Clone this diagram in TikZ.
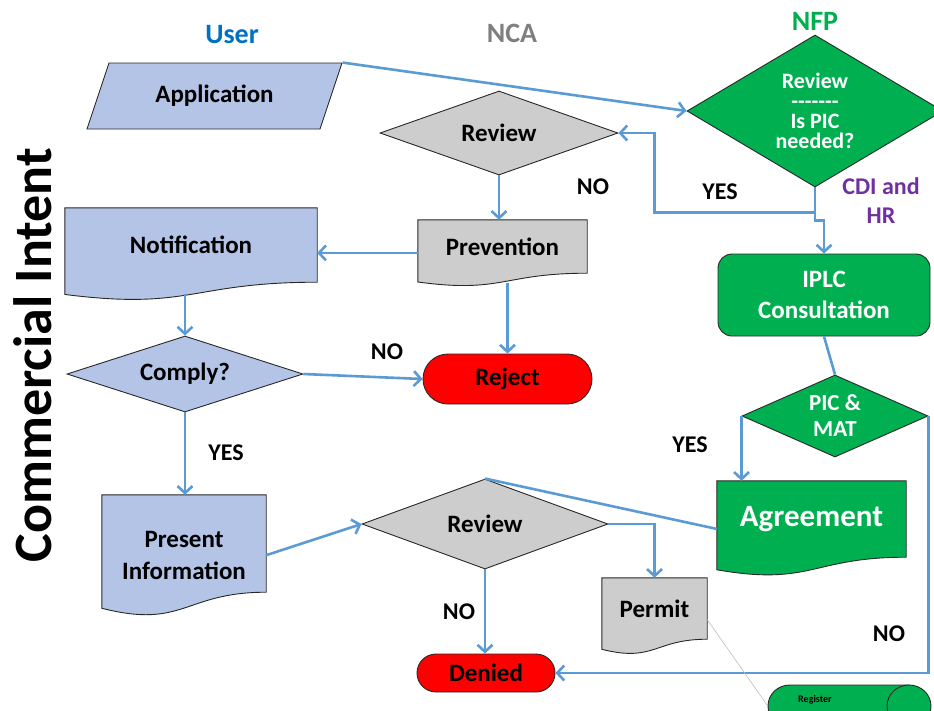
\documentclass[tikz,border=0pt]{standalone}
\usepackage{fontspec}
\setmainfont{Carlito}
\usetikzlibrary{shapes.geometric,arrows.meta,calc,backgrounds}
\definecolor{lblue}{RGB}{180,196,230}
\definecolor{gfill}{RGB}{205,205,205}
\definecolor{ablue}{RGB}{91,155,213}
\definecolor{ngreen}{RGB}{0,176,80}
\definecolor{nred}{RGB}{255,0,0}
\definecolor{npurple}{RGB}{112,48,160}
\definecolor{hblue}{RGB}{0,112,192}
\definecolor{hgray}{RGB}{127,127,127}
\definecolor{bord}{RGB}{40,40,40}
\newcommand\fsz[2]{\fontsize{#1}{#2}\selectfont\bfseries}
\newcommand\docshape[2]{%
  \filldraw[box, fill=#2] (#1.north west) -- (#1.north east) -- (#1.south east)
    .. controls (#1.south) and ($(#1.north)!1.381!(#1.south)$) ..
    ($(#1.north west)!1.1646!(#1.south west)$) -- cycle;}
\begin{document}
\begin{tikzpicture}[x=1pt,y=-1pt,
  box/.style={draw=bord, line width=0.9pt},
  fs/.style={font=\fsz{25}{30}},
  lbl/.style={font=\fsz{24}{28}},
  hdr/.style={font=\fsz{28}{32}},
  arr/.style={draw=ablue, line width=2.6pt, -{Straight Barb[length=7pt,width=15pt]}},
  conn/.style={draw=ablue, line width=2.6pt},
  thinline/.style={draw=black!25, line width=0.6pt},
  docnode/.style={rectangle, inner sep=0pt, align=center},
  dia/.style={diamond, box, inner sep=0pt, align=center}]
\useasboundingbox (0,0) rectangle (934,710);
\clip (0,0) rectangle (934,710);

% headers
\node[hdr, text=hblue] (huser) at (232,35) {User};
\node[hdr, text=hgray] (hnca) at (512,33) {NCA};
\node[hdr, text=ngreen] (hnfp) at (815,21) {NFP};
\node[font=\fsz{54}{60}, rotate=90] (ci) at (33,355) {Commercial Intent};

% user column
\node[trapezium, trapezium left angle=52, trapezium right angle=128,
      trapezium stretches body, minimum width=255pt, minimum height=66pt,
      box, fill=lblue, fs] (app) at (214.5,96) {Application};
\node[docnode, minimum width=252pt, minimum height=74pt, fs] (notif) at (191,245) {Notification};
\node[dia, fill=lblue, minimum width=236pt, minimum height=76pt, aspect=3.1, fs] (comply) at (185,374) {Comply?};
\node[docnode, minimum width=164pt, minimum height=97pt] (pres) at (184,543.5) {};
\node[font=\fsz{25}{32}, align=center] (prest) at (184,555) {Present\\Information};

% NCA column
\node[dia, fill=gfill, minimum width=238pt, minimum height=84pt, aspect=2.83, fs] (rev1) at (499,133) {Review};
\node[docnode, minimum width=169pt, minimum height=53pt, fs] (prev) at (502.5,246.5) {Prevention};
\node[rectangle, rounded corners=25pt, box, fill=nred, minimum width=169pt, minimum height=50pt, fs] (reject) at (507.5,379) {Reject};
\node[dia, fill=gfill, minimum width=246pt, minimum height=90pt, aspect=2.73, fs] (rev2) at (485,524) {Review};
\node[docnode, minimum width=105pt, minimum height=61pt, fs] (permit) at (654.5,608.5) {Permit};
\node[rectangle, rounded corners=19pt, box, fill=nred, minimum width=138pt, minimum height=38pt, fs] (denied) at (486,673) {Denied};

% NFP column
\node[dia, fill=ngreen, minimum width=256pt, minimum height=152pt, aspect=1.68,
      text=white, font=\fsz{22}{20}] (nfp) at (815,111) {Review\\{-}{-}{-}{-}{-}{-}{-}\\Is PIC\\needed?};
\node[rectangle, rounded corners=14pt, box, fill=ngreen, minimum width=212pt, minimum height=82pt,
      text=white, align=center, font=\fsz{25}{31}] (iplc) at (824,295) {IPLC\\Consultation};
\node[dia, fill=ngreen, minimum width=186pt, minimum height=82pt, aspect=2.27,
      text=white, font=\fsz{23}{26}] (pic) at (835,416) {PIC \&\\MAT};
\node[docnode, minimum width=189pt, minimum height=76pt, font=\fsz{31}{36}, text=white] (agree) at (811.5,519) {Agreement};

% register (horizontal cylinder, partly outside the frame)
\node[inner sep=0pt, minimum width=163pt, minimum height=42pt] (reg) at (849.5,706) {};
\filldraw[box, fill=ngreen] (790,685) -- (909,685) -- (909,727) -- (790,727)
  .. controls (778,727) and (768,718) .. (768,706)
  .. controls (768,694) and (778,685) .. (790,685) -- cycle;
\filldraw[box, fill=ngreen] (909,706) ellipse [x radius=22pt, y radius=21pt];
\node[font=\fsz{10}{12}] (regt) at (815,700) {Register};

% document shapes behind their texts
\begin{scope}[on background layer]
  \fill[white] (0,0) rectangle (934,710);
  \docshape{notif}{lblue}
  \docshape{pres}{lblue}
  \docshape{prev}{gfill}
  \docshape{permit}{gfill}
  \docshape{agree}{ngreen}
\end{scope}

% labels
\node[lbl] (lno1) at (593,187) {NO};
\node[lbl] (lyes1) at (720,192) {YES};
\node[font=\fsz{24}{29}, text=npurple, align=center] (lcdi) at (881,201) {CDI and\\HR};
\node[lbl] (lno2) at (387,352) {NO};
\node[lbl] (lyes2) at (226,453) {YES};
\node[lbl] (lno3) at (459,612) {NO};
\node[lbl] (lyes3) at (690,445) {YES};
\node[lbl] (lno4) at (889,634) {NO};

% connectors
\draw[arr] (app.top right corner) -- (nfp.west);
\draw[arr] (nfp.south) -- ++(0,25) coordinate (jn) -| ($(rev1.east)+(36,0)$) -- (rev1.east);
\draw[arr] (jn) -- ++(0,8) -- ++(9,0) -- (iplc.north);
\draw[arr] (rev1.south) -- (rev1.south |- prev.north);
\draw[arr] ($(prev.north west)!0.62!(prev.south west)$) coordinate (pw) -- (pw -| notif.east);
\draw[arr] ($(notif.south)+(-6,12)$) -- (comply.north);
\draw[arr] (comply.east) -- (reject.west);
\draw[arr] ($(reject.north |- prev.south)+(0,10)$) -- (reject.north);
\draw[arr] (comply.south) -- (comply.south |- pres.north);
\draw[arr] ($(pres.north east)!0.62!(pres.south east)$) -- (rev2.west);
\draw[conn] (rev2.north) -- ($(agree.north west)!0.63!(agree.south west)$);
\draw[arr] (rev2.east) -| (permit.north);
\draw[arr] (rev2.south) -- (rev2.south |- denied.north);
\draw[conn] (iplc.south) -- (pic.north);
\draw[arr] (pic.west) -- (pic.west |- agree.north);
\draw[arr] (pic.east) |- (denied.east);
\draw[thinline] ($(permit.north east)!0.68!(permit.south east)$) -- (reg.west);
\end{tikzpicture}
\end{document}
